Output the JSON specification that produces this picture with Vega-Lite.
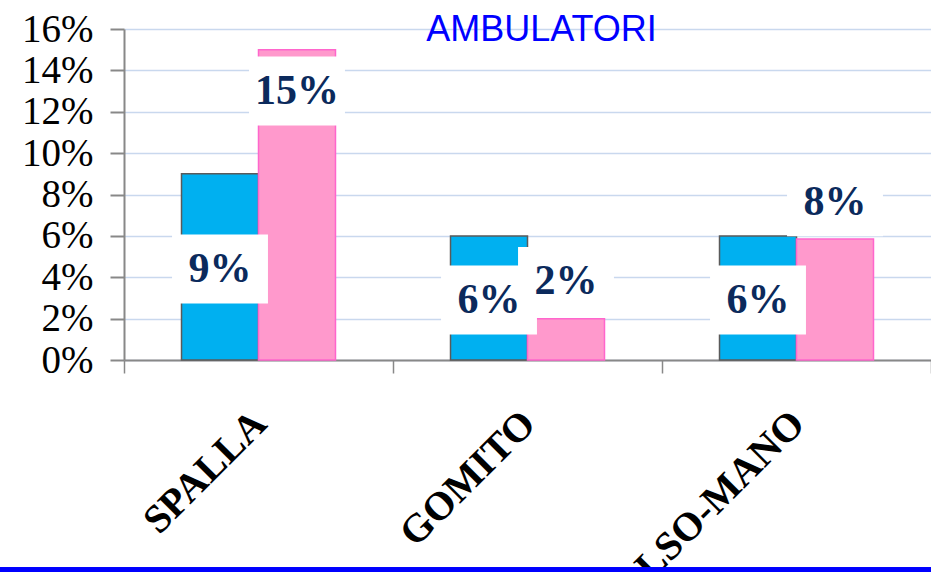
{
  "$schema": "https://vega.github.io/schema/vega-lite/v6.json",
  "width": 807,
  "height": 331,
  "autosize": {"type": "none"},
  "padding": {"left": 124, "top": 29, "right": 0, "bottom": 212},
  "background": "white",
  "title": {
    "text": "AMBULATORI",
    "font": "Liberation Sans",
    "fontSize": 36,
    "fontWeight": "normal",
    "color": "#0000FF",
    "anchor": "middle",
    "frame": "group",
    "offset": 0,
    "baseline": "alphabetic",
    "dy": 67,
    "dx": 14
  },
  "config": {"view": {"stroke": null}},
  "data": {
    "values": [
      {"zona": "SPALLA", "serie": "A", "valore": 9, "etichetta": "9%"},
      {"zona": "SPALLA", "serie": "B", "valore": 15, "etichetta": "15%"},
      {"zona": "GOMITO", "serie": "A", "valore": 6, "etichetta": "6%"},
      {"zona": "GOMITO", "serie": "B", "valore": 2, "etichetta": "2%"},
      {"zona": "POLSO-MANO", "serie": "A", "valore": 6, "etichetta": "6%"},
      {"zona": "POLSO-MANO", "serie": "B", "valore": 5.85, "etichetta": "8%"}
    ]
  },
  "transform": [
    {"calculate": "datum.serie === 'A' ? datum.valore / 2 - 0.1 : (datum.valore > 10 ? datum.valore - 2 : datum.valore + 1.8)", "as": "posEtichetta"}
  ],
  "resolve": {"scale": {"x": "independent"}},
  "layer": [
    {
      "layer": [
        {
          "mark": {"type": "bar", "strokeWidth": 1.5},
          "encoding": {
            "x": {
              "field": "zona", "type": "nominal", "sort": null,
              "scale": {"paddingInner": 0, "paddingOuter": 0},
              "axis": {
                "title": null,
                "labelAngle": -45,
                "labelFont": "Liberation Serif",
                "labelFontWeight": "bold",
                "labelFontSize": 40,
                "labelColor": "black",
                "labelLimit": 0,
                "labelOverlap": false,
                "tickBand": "extent",
                "tickSize": 13,
                "tickColor": "#888888",
                "tickWidth": 1.5,
                "domainColor": "#888888",
                "domainWidth": 2,
                "labelPadding": 30,
                "labelOffset": -13
              }
            },
            "xOffset": {"field": "serie", "type": "nominal", "scale": {"paddingOuter": 0.747, "paddingInner": 0}},
            "y": {
              "field": "valore", "type": "quantitative",
              "scale": {"domain": [0, 16], "nice": false},
              "axis": {
                "title": null,
                "values": [0, 2, 4, 6, 8, 10, 12, 14, 16],
                "labelExpr": "datum.value + '%'",
                "grid": true,
                "gridColor": "#C9D8EE",
                "gridWidth": 1.5,
                "domainColor": "#888888",
                "domainWidth": 2,
                "tickColor": "#888888",
                "tickWidth": 2,
                "tickSize": 14,
                "labelFont": "Liberation Serif",
                "labelFontSize": 39,
                "labelColor": "black",
                "labelPadding": 17
              }
            },
            "color": {"field": "serie", "type": "nominal", "scale": {"domain": ["A", "B"], "range": ["#00B0F0", "#FF99CC"]}, "legend": null},
            "stroke": {"field": "serie", "type": "nominal", "scale": {"domain": ["A", "B"], "range": ["#5A5A5A", "#FF66CC"]}, "legend": null}
          }
        },
        {
          "mark": {"type": "point", "shape": "M-1.39,-1L1.39,-1L1.39,1L-1.39,1Z", "filled": true, "color": "white", "opacity": 1, "strokeWidth": 0, "size": 4761},
          "encoding": {
            "x": {"field": "zona", "type": "nominal", "sort": null},
            "xOffset": {"field": "serie", "type": "nominal"},
            "y": {"field": "posEtichetta", "type": "quantitative"}
          }
        },
        {
          "mark": {"type": "text", "font": "Liberation Serif", "fontWeight": "bold", "fontSize": 42, "color": "#0B2A5C", "baseline": "middle", "align": "center"},
          "encoding": {
            "x": {"field": "zona", "type": "nominal", "sort": null},
            "xOffset": {"field": "serie", "type": "nominal"},
            "y": {"field": "posEtichetta", "type": "quantitative"},
            "text": {"field": "etichetta"}
          }
        }
      ]
    },
    {
      "mark": {"type": "rule", "color": "#0000FF", "strokeWidth": 7},
      "encoding": {
        "x": {"datum": -0.16, "type": "quantitative", "scale": {"domain": [0, 1]}, "axis": null},
        "x2": {"datum": 1},
        "y": {"datum": -10.2}
      }
    }
  ]
}
